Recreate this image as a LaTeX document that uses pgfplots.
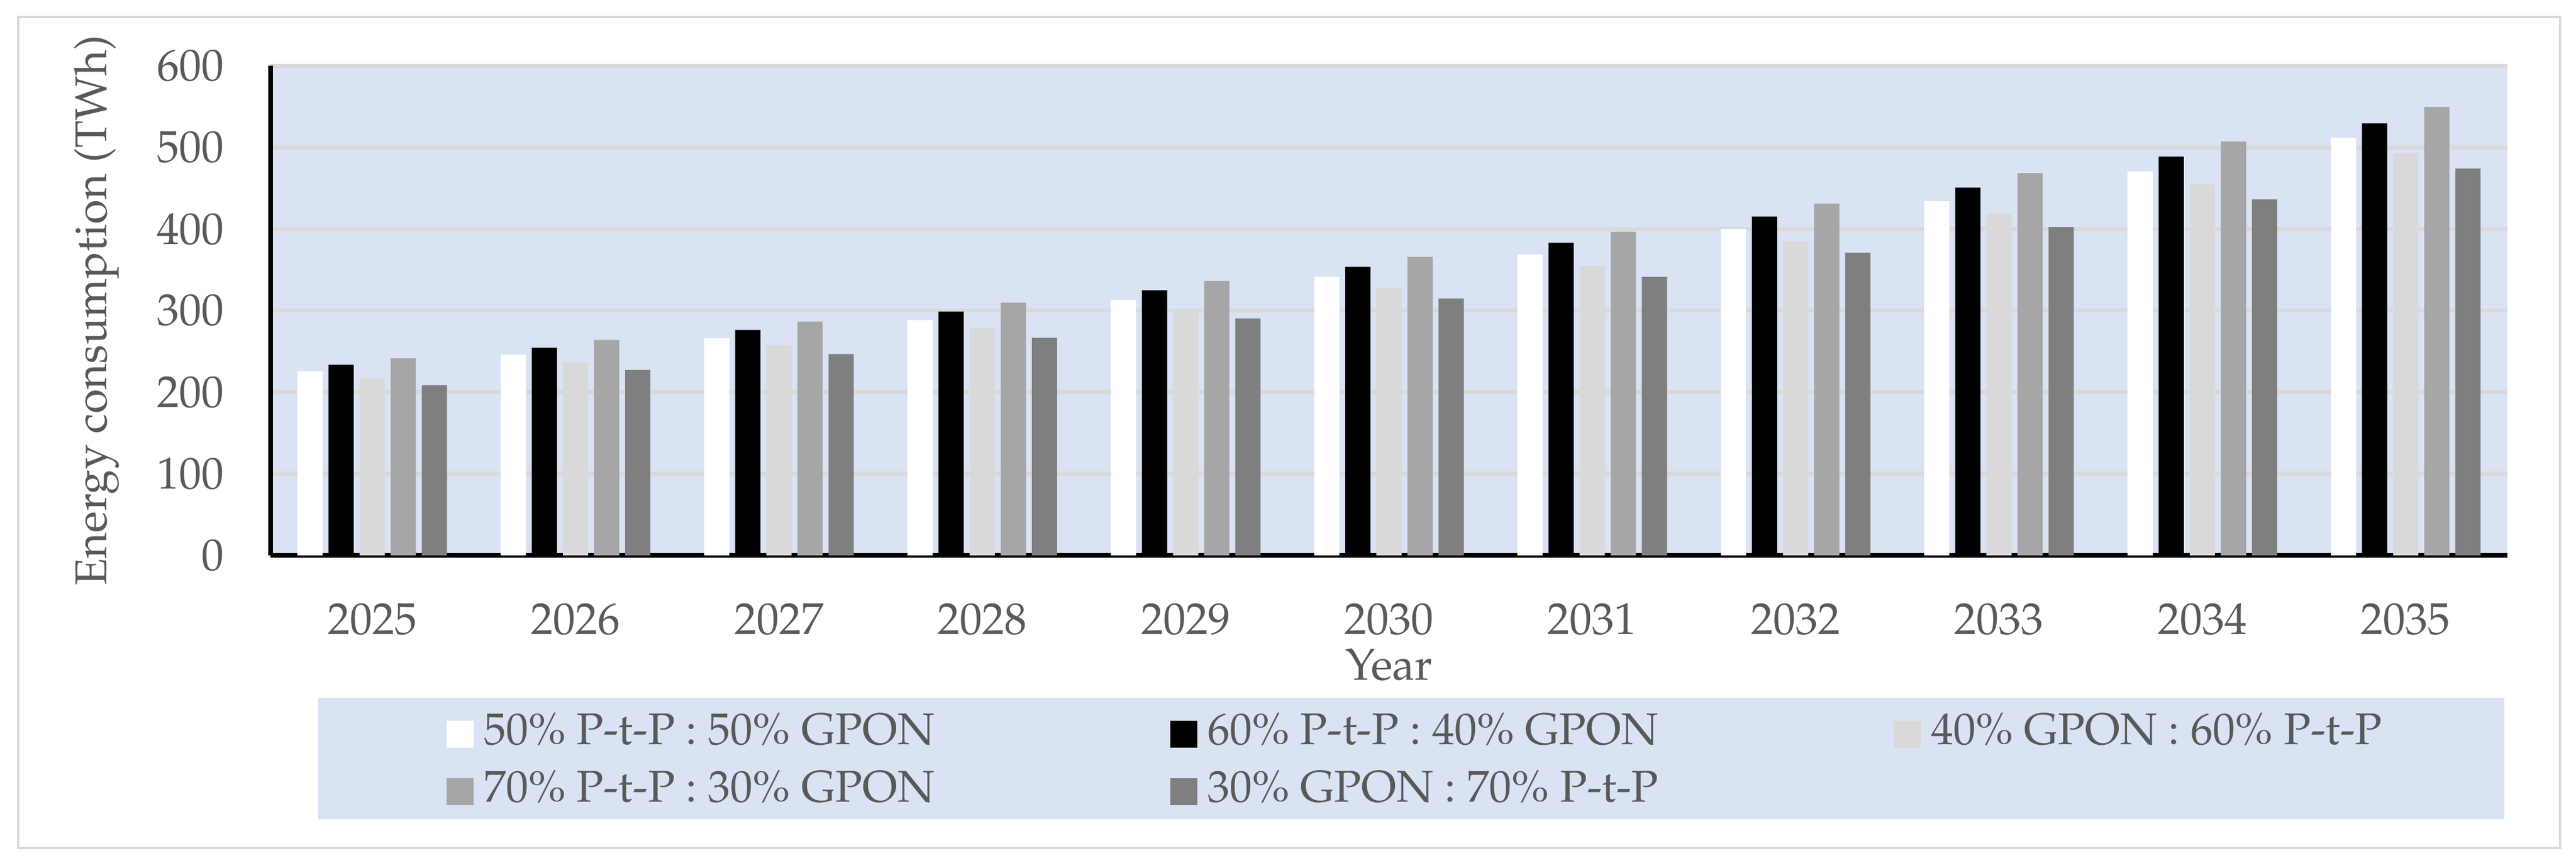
\documentclass[border=0pt]{standalone}
\usepackage[T1]{fontenc}
\usepackage{mathpazo}
\usepackage{pgfplots}
\pgfplotsset{compat=1.18}
\definecolor{bgblue}{HTML}{DAE3F3}
\definecolor{gridgray}{HTML}{D9D9D9}
\definecolor{txtgray}{HTML}{595959}
\definecolor{barlight}{HTML}{D9D9D9}
\definecolor{barmid}{HTML}{A6A6A6}
\definecolor{bardark}{HTML}{7F7F7F}
\newcommand{\lt}[1]{\makebox[117pt][l]{#1}}
\newcommand{\fs}{\fontsize{7.6}{9}\selectfont}
\begin{document}
\fs
\begin{tikzpicture}
% page frame and legend panel
\path (-46.1pt,-51.6pt) rectangle (392.8pt,94.7pt);
\draw[gridgray, line width=0.45pt] (-43.0pt,-49.9pt) rectangle (390.1pt,91.8pt);
\fill[bgblue] (8.1pt,-45.0pt) rectangle (380.6pt,-24.3pt);
\begin{axis}[
  width=381.1pt, height=83.5pt, scale only axis,
  ymin=0, ymax=600, ytick={0,100,...,600},
  xmin=-0.5, xmax=10.5, xtick={0,...,10},
  xticklabels={2025,2026,2027,2028,2029,2030,2031,2032,2033,2034,2035},
  axis x line*=bottom, axis y line*=left,
  axis line style={line width=0.75pt, black, -},
  axis background/.style={fill=bgblue},
  ymajorgrids, grid style={gridgray, line width=0.7pt},
  major tick length=0pt,
  ybar=1.0pt, bar width=4.3pt,
  tick label style={font=\fs, text=txtgray, inner sep=0pt},
  yticklabel style={anchor=east, xshift=-7.7pt},
  xticklabel style={anchor=north, yshift=-8.0pt},
  label style={font=\fs, text=txtgray},
  ylabel={Energy consumption (TWh)},
  xlabel={Year},
  ylabel style={at={(axis description cs:-0.0777,0.5)}, anchor=center},
  xlabel style={at={(axis description cs:0.5,-0.224)}, anchor=center},
  legend columns=3,
  legend image code/.code={\fill[#1] (0pt,-2.3pt) rectangle (4.6pt,2.3pt);},
  legend style={draw=none, fill=none, at={(axis description cs:0.0782,-0.424)},
    anchor=west, inner sep=0pt, row sep=3.2pt, text=txtgray, font=\fs,
    nodes={inner sep=0pt, text height=5pt, text depth=1.6pt},
    /tikz/every odd column/.append style={column sep=1.7pt}},
]
\addplot[fill=white, draw=none] coordinates {
 (0,225.5) (1,245.8) (2,266.0) (3,288.3) (4,313.2) (5,341.3) (6,368.6) (7,400.0) (8,434.0) (9,470.3) (10,511.5)};
\addplot[fill=black, draw=none] coordinates {
 (0,233.7) (1,254.5) (2,276.2) (3,298.7) (4,324.7) (5,353.5) (6,383.0) (7,415.0) (8,450.6) (9,488.5) (10,529.3)};
\addplot[fill=barlight, draw=none] coordinates {
 (0,216.4) (1,236.5) (2,257.5) (3,278.8) (4,300.5) (5,327.6) (6,354.8) (7,384.9) (8,418.7) (9,454.6) (10,493.0)};
\addplot[fill=barmid, draw=none] coordinates {
 (0,241.6) (1,264.0) (2,286.4) (3,309.6) (4,336.2) (5,365.7) (6,396.4) (7,431.0) (8,468.4) (9,507.0) (10,549.5)};
\addplot[fill=bardark, draw=none] coordinates {
 (0,208.5) (1,227.2) (2,246.8) (3,266.5) (4,290.4) (5,314.8) (6,341.3) (7,370.8) (8,402.3) (9,436.1) (10,474.0)};
\legend{\lt{50\% P-t-P : 50\% GPON},\lt{60\% P-t-P : 40\% GPON},40\% GPON : 60\% P-t-P,
        \lt{70\% P-t-P : 30\% GPON},\lt{30\% GPON : 70\% P-t-P}}
\end{axis}
\end{tikzpicture}
\end{document}
